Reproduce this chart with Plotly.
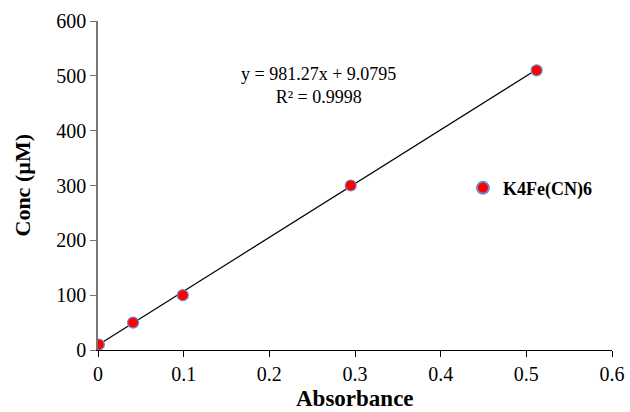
import plotly.graph_objects as go

absorbance = [0.001, 0.041, 0.099, 0.295, 0.512]
conc = [10, 50, 100, 300, 510]
slope = 981.27
intercept = 9.0795
series_name = "K4Fe(CN)6"
x_ticks = [0, 0.1, 0.2, 0.3, 0.4, 0.5, 0.6]
y_ticks = [0, 100, 200, 300, 400, 500, 600]

fit_x = [min(absorbance), max(absorbance)]
fit_y = [slope * v + intercept for v in fit_x]

font = "Liberation Serif, Times New Roman, serif"
fig = go.Figure()
fig.add_trace(go.Scatter(x=fit_x, y=fit_y, mode="lines",
                         line=dict(color="black", width=1.2), showlegend=False,
                         hoverinfo="skip"))
fig.add_trace(go.Scatter(x=absorbance, y=conc, mode="markers", name=series_name,
                         marker=dict(color="#ff0000", size=11,
                                     line=dict(color="#6a8fc8", width=1.2))))

fig.update_layout(
    width=630, height=412,
    margin=dict(l=98, r=18, t=21, b=62),
    paper_bgcolor="white", plot_bgcolor="white",
    font=dict(family=font, color="black", size=16),
    legend=dict(x=0.710, y=0.492, xanchor="left", yanchor="middle",
                font=dict(family=font, size=18, color="black", weight="bold"),
                bgcolor="rgba(0,0,0,0)", itemsizing="constant"),
    xaxis=dict(range=[0, 0.6], tickvals=x_ticks, ticktext=[f"{v:g}" for v in x_ticks],
               showgrid=False, zeroline=False, showline=True, linecolor="black",
               linewidth=1.3, ticks="outside", ticklen=6, tickcolor="black",
               tickfont=dict(family=font, size=20), automargin=False),
    yaxis=dict(range=[0, 600], tickvals=y_ticks,
               showgrid=False, zeroline=False, showline=True, linecolor="#777777",
               linewidth=1.5, ticks="outside", ticklen=6, tickcolor="#777777",
               tickfont=dict(family=font, size=20), automargin=False),
)
fig.add_annotation(x=0.257, y=483, xref="x", yref="y",
                   text=f"y = {slope}x + {intercept}<br>R² = 0.9998",
                   showarrow=False, align="center",
                   font=dict(family=font, size=18, color="black"))
fig.add_annotation(x=0.5, y=-(398 - 350) / 329, xref="paper", yref="paper",
                   yanchor="middle",
                   text="<b>Absorbance</b>", showarrow=False,
                   font=dict(family=font, size=23, color="black"))
fig.add_annotation(x=-(98 - 22) / 514, y=0.5, xref="paper", yref="paper",
                   xanchor="center",
                   text="<b>Conc (µM)</b>", showarrow=False, textangle=-90,
                   font=dict(family=font, size=22, color="black"))
fig.write_html("out.html")
